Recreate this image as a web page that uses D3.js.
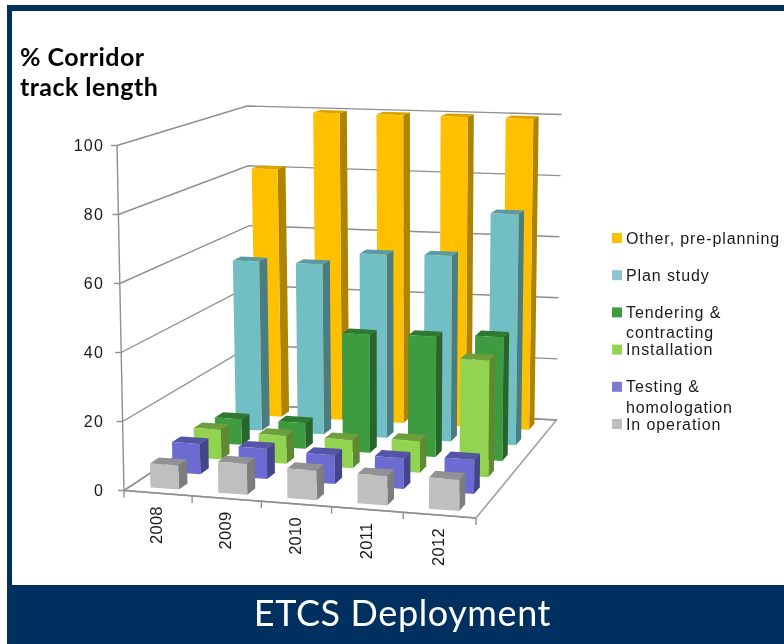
<!DOCTYPE html>
<html>
<head>
<meta charset="utf-8">
<script src="https://cdn.jsdelivr.net/npm/d3@7"></script>
<style>
  html, body { margin: 0; padding: 0; background: #fff; }
  svg { display: block; filter: blur(0.35px); }
  text { font-family: "Liberation Sans", Arial, sans-serif; }
</style>
</head>
<body>
<div id="demo"></div>
<script>
// values, one array per series, 2008..2012
const years = ["2008", "2009", "2010", "2011", "2012"];
const inOperation = [7, 9, 8.5, 8.5, 9];
const testing = [9, 9, 8.5, 9, 10];
const installation = [9, 8.5, 8.5, 9.5, 35];
const tendering = [8, 8, 36.5, 37, 38];
const planStudy = [54, 54, 58, 58.5, 72.5];
const otherPlanning = [81, 100, 100, 100, 100];
const valueTicks = [0, 20, 40, 60, 80, 100];

// front of the chart first
const seriesNames = ["In operation", "Testing", "Installation", "Tendering", "Plan study", "Other"];
const seriesValues = [inOperation, testing, installation, tendering, planStudy, otherPlanning];
const frontColors = ["#bfbfbf", "#6b6bd2", "#92d350", "#3e9b40", "#72bec5", "#ffc000"];
const sideColors = ["#7d7d7d", "#45458c", "#5f8a33", "#28652a", "#4a7d82", "#ae8300"];
const topColors = ["#929292", "#5555a8", "#6f9f3d", "#2f7a31", "#5a9aa0", "#d9a300"];

const legendLabels = [["Other, pre-planning"], ["Plan study"], ["Tendering &", "contracting"], ["Installation"], ["Testing &", "homologation"], ["In operation"]];
const legendColors = ["#ffc000", "#8cc4cf", "#3e9b40", "#92d350", "#7b7bd0", "#bfbfbf"];

let w = 784;
let h = 644;
let navy = "#00305f";
let gridColor = "#8f8f8f";

let svg = d3.select("#demo")
    .append("svg")
    .attr("width", w)
    .attr("height", h);

// slide frame
svg.append("rect").attr("x", 7).attr("y", 5).attr("width", w - 7).attr("height", 6).attr("fill", navy);
svg.append("rect").attr("x", 7).attr("y", 5).attr("width", 5).attr("height", h - 5).attr("fill", navy);
svg.append("rect").attr("x", 7).attr("y", 585).attr("width", w - 7).attr("height", h - 585).attr("fill", navy);

svg.append("text")
    .attr("x", 402.5)
    .attr("y", 626)
    .attr("text-anchor", "middle")
    .attr("fill", "#fff")
    .style("font-family", "Lato")
    .style("font-size", "36px")
    .style("letter-spacing", "0.6px")
    .text("ETCS Deployment");

svg.selectAll(".axis-title")
    .data(["% Corridor", "track length"])
    .enter()
    .append("text")
    .attr("class", "axis-title")
    .attr("x", 20)
    .attr("y", (d, i) => 66 + i * 30)
    .attr("fill", "#000")
    .style("font-family", "Lato")
    .style("font-weight", "bold")
    .style("font-size", "25px")
    .style("letter-spacing", "0.45px")
    .text(d => d);

// the scales work in a unit box: u along years, v into the page, t up
let uScale = d3.scaleBand().domain(years).range([0, 1]).paddingInner(0.58).paddingOuter(0.29);
let vScale = d3.scaleBand().domain(seriesNames).range([0, 1]).paddingInner(0.6).paddingOuter(0.3);
let tScale = d3.scaleLinear().domain([0, 100]).range([0, 1]);

// floor corners on screen: front left, front right, back right, back left
let fl = [124, 490.5], fr = [476, 518], br = [556.5, 420], bl = [253, 405];
// how far the top of the box sits from the floor at the same corners
let upFL = [-7, -345], upFR = [3.5, -352], upBR = [5, -305.5], upBL = [-6, -299];
// the picture's foreshortening is milder than the corners alone imply
let perspective = 0.4;

let sx = fl[0] - fr[0] + br[0] - bl[0];
let sy = fl[1] - fr[1] + br[1] - bl[1];
let dx1 = fr[0] - br[0], dx2 = bl[0] - br[0];
let dy1 = fr[1] - br[1], dy2 = bl[1] - br[1];
let den = dx1 * dy2 - dx2 * dy1;
let pg = (sx * dy2 - dx2 * sy) / den;
let ph = (dx1 * sy - sx * dy1) / den;
let pa = fr[0] - fl[0] + pg * fr[0];
let pb = bl[0] - fl[0] + ph * bl[0];
let pd = fr[1] - fl[1] + pg * fr[1];
let pe = bl[1] - fl[1] + ph * bl[1];

const bilinear = (u, v, a, b, c, d, k) =>
    (1 - u) * (1 - v) * a[k] + u * (1 - v) * b[k] + u * v * c[k] + (1 - u) * v * d[k];

const project = (u, v, t) => {
    let z = pg * u + ph * v + 1;
    let x = (pa * u + pb * v + fl[0]) / z;
    let y = (pd * u + pe * v + fl[1]) / z;
    x = d3.interpolateNumber(bilinear(u, v, fl, fr, br, bl, 0), x)(perspective);
    y = d3.interpolateNumber(bilinear(u, v, fl, fr, br, bl, 1), y)(perspective);
    return [x + bilinear(u, v, upFL, upFR, upBR, upBL, 0) * t,
            y + bilinear(u, v, upFL, upFR, upBR, upBL, 1) * t];
};

const poly = pts => "M" + pts.map(p => p.join(",")).join("L") + "Z";
const seg = (a, b) => "M" + a.join(",") + "L" + b.join(",");

// floor
svg.append("path")
    .attr("d", poly([project(0, 0, 0), project(1, 0, 0), project(1, 1, 0), project(0, 1, 0)]))
    .attr("fill", "#fff")
    .attr("stroke", "#a0a0a0")
    .attr("stroke-width", 1.6);
svg.append("path")
    .attr("d", seg(project(0, 0, 0), project(1, 0, 0)))
    .attr("stroke", gridColor)
    .attr("stroke-width", 1.6);

// side wall and back wall lines
let grid = svg.append("g").attr("fill", "none").attr("stroke", gridColor).attr("stroke-width", 1.4);
valueTicks.forEach(d => {
    let t = tScale(d);
    grid.append("path")
        .attr("d", "M" + [project(0, 0, t), project(0, 1, t), project(1, 1, t)].map(p => p.join(",")).join("L"));
    let p = project(0, 0, t);
    grid.append("path").attr("d", seg([p[0] - 6, p[1]], p));
});
grid.append("path").attr("d", seg(project(0, 0, 0), project(0, 0, 1)));

// year ticks under the front edge
d3.range(0, 6).forEach(k => {
    let p = project(k / 5, 0, 0);
    grid.append("path").attr("d", seg(p, [p[0], p[1] + 7]));
});

svg.selectAll(".value-label")
    .data(valueTicks)
    .enter()
    .append("text")
    .attr("class", "value-label")
    .attr("x", 104)
    .attr("y", d => project(0, 0, tScale(d))[1] + 5.5)
    .attr("text-anchor", "end")
    .attr("fill", "#1a1a1a")
    .style("font-size", "16px")
    .style("letter-spacing", "1.2px")
    .text(d => d);

// bars, back row first so the front rows paint over them
d3.range(seriesNames.length - 1, -1, -1).forEach(s => {
    let name = seriesNames[s];
    let v0 = vScale(name);
    let v1 = v0 + vScale.bandwidth();
    let row = svg.append("g").attr("class", "series");

    row.selectAll("g")
        .data(seriesValues[s])
        .enter()
        .append("g")
        .each(function (d, i) {
            let u0 = uScale(years[i]);
            let u1 = u0 + uScale.bandwidth();
            let t = tScale(d);
            let g = d3.select(this);
            g.append("path")
                .attr("d", poly([project(u0, v0, t), project(u1, v0, t), project(u1, v1, t), project(u0, v1, t)]))
                .attr("fill", topColors[s]);
            g.append("path")
                .attr("d", poly([project(u1, v0, 0), project(u1, v1, 0), project(u1, v1, t), project(u1, v0, t)]))
                .attr("fill", sideColors[s]);
            g.append("path")
                .attr("d", poly([project(u0, v0, 0), project(u1, v0, 0), project(u1, v0, t), project(u0, v0, t)]))
                .attr("fill", frontColors[s]);
        });
});

svg.selectAll(".year-label")
    .data(years)
    .enter()
    .append("text")
    .attr("class", "year-label")
    .attr("text-anchor", "end")
    .attr("transform", d => {
        let p = project(uScale(d) + uScale.bandwidth() / 2, 0, 0);
        return "translate(" + (p[0] + 4.5) + "," + (p[1] + 13) + ") rotate(-90)";
    })
    .attr("fill", "#1a1a1a")
    .style("font-size", "16.5px")
    .style("letter-spacing", "0.3px")
    .text(d => d);

// legend
let legendY = d3.scaleLinear().domain([0, 5]).range([238, 424]);
let legend = svg.selectAll(".legend-item")
    .data(legendLabels)
    .enter()
    .append("g")
    .attr("class", "legend-item")
    .attr("transform", (d, i) => "translate(612," + legendY(i) + ")");

legend.append("rect")
    .attr("y", -5)
    .attr("width", 10)
    .attr("height", 10)
    .attr("fill", (d, i) => legendColors[i]);

legend.selectAll("text")
    .data(d => d)
    .enter()
    .append("text")
    .attr("x", 14)
    .attr("y", (d, i) => 5.5 + i * 20.5)
    .attr("fill", "#1a1a1a")
    .style("font-size", "16px")
    .style("letter-spacing", "0.9px")
    .text(d => d);
</script>
</body>
</html>
